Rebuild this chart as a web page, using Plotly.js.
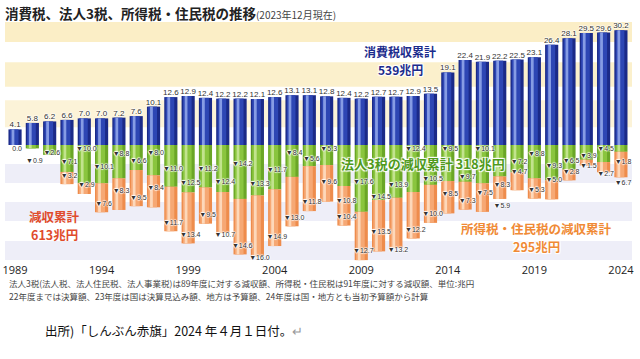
<!DOCTYPE html>
<html>
<head>
<meta charset="utf-8">
<script src="https://cdn.plot.ly/plotly-3.0.1.min.js"></script>
<style>
html,body{margin:0;padding:0;background:#fff;}
#chart{width:640px;height:359px;}
</style>
</head>
<body>
<div id="chart"></div>
<script>
// ---- data (trillion yen) ----
const years = [1989,1990,1991,1992,1993,1994,1995,1996,1997,1998,1999,2000,2001,2002,2003,2004,2005,2006,2007,2008,2009,2010,2011,2012,2013,2014,2015,2016,2017,2018,2019,2020,2021,2022,2023,2024];
const consumptionTax = [4.1,5.8,6.2,6.6,7.0,7.0,7.2,7.6,10.1,12.6,12.9,12.4,12.2,12.2,12.1,12.6,13.1,13.1,12.8,12.4,12.2,12.7,12.7,12.9,13.5,19.1,22.4,21.9,22.2,22.5,23.1,26.4,28.1,29.5,29.6,30.2];
const corporateTaxCut = [0.0,0.9,2.6,7.1,10.0,10.1,8.8,6.6,8.0,11.0,12.5,11.2,12.4,14.2,13.3,11.7,8.4,5.6,5.3,10.8,17.6,14.5,13.9,12.4,10.5,9.5,9.7,10.1,8.3,7.2,8.8,9.3,6.5,3.9,4.5,1.8];
const incomeTaxCut = [null,null,null,3.2,2.9,7.6,8.3,9.5,8.4,11.7,13.4,9.5,10.7,14.6,16.0,14.9,13.0,11.8,9.6,10.4,12.7,13.5,13.2,12.2,10.0,8.5,7.3,7.5,5.9,4.7,5.3,5.0,2.8,1.5,2.7,6.7];
const tickYears = [1989,1994,1999,2004,2009,2014,2019,2024];

// ---- derived ----
const gNeg = corporateTaxCut.map(v => -v);
const oNeg = incomeTaxCut.map(v => v == null ? null : -v);
const oBase = corporateTaxCut.map(v => -v);

// label placement: greedy, avoid the neighbouring bar's labels and the green caption
const SEP = 2.8;
const captionYears = [2007.6, 2017.4], captionBand = [-8.1, -1.3];
const wide = v => v != null && v >= 10;
const gLab = [], oLab = [];
function bad(y, i, isWide, prev) {
  if (prev.some(p => p && (p.wide || isWide) && Math.abs(p.y - y) < SEP)) return true;
  if (prev.some(p => p && !p.wide && !isWide && Math.abs(p.y - y) < SEP * 0.45)) return true;
  const yr = years[i];
  return yr >= captionYears[0] && yr <= captionYears[1] && y > captionBand[0] && y < captionBand[1];
}
const steps = [0, SEP, -SEP, 2*SEP, -2*SEP, 3*SEP, -3*SEP, 4*SEP, -4*SEP];
corporateTaxCut.forEach((g, i) => {
  const prev = i > 0 ? [gLab[i-1], oLab[i-1]] : [];
  const pg = -(g * 0.5) - 0.9;
  let yg = pg;
  for (const s of steps) { const c = Math.min(-1.1, pg + s); if (!bad(c, i, wide(g), prev)) { yg = c; break; } }
  gLab.push({y: yg, wide: wide(g)});
  const o = incomeTaxCut[i];
  if (o == null) { oLab.push(null); return; }
  const po = Math.min(-(g + o) + 2.2, yg - SEP);
  let yo = po;
  for (const s of steps) { const c = Math.min(po + s, yg - SEP); if (!bad(c, i, wide(o), prev)) { yo = c; break; } }
  oLab.push({y: yo, wide: wide(o)});
});

const numFont = "'Liberation Sans Narrow','Liberation Sans','DejaVu Sans',sans-serif";
const halo = '1px 0 1px #fff, -1px 0 1px #fff, 0 1px 1px #fff, 0 -1px 1px #fff';

function barLayer(y, base, color, width, offset) {
  const t = {type:'bar', x:years, y:y, width:width, marker:{color:color, line:{width:0}}, hoverinfo:'skip'};
  if (base) t.base = base;
  if (offset !== undefined) t.offset = offset;
  return t;
}

const traces = [
  barLayer(consumptionTax, null, '#1b2a88', 0.76),
  barLayer(consumptionTax, null, '#2d46b4', 0.5, -0.3),
  barLayer(consumptionTax, null, 'rgba(150,172,236,0.85)', 0.16, -0.2),
  barLayer(gNeg, null, '#6aa626', 0.76),
  barLayer(gNeg, null, '#8ac53e', 0.5, -0.3),
  barLayer(gNeg, null, 'rgba(200,230,150,0.9)', 0.16, -0.2),
  barLayer(oNeg, oBase, '#ee8c4c', 0.76),
  barLayer(oNeg, oBase, '#f6a874', 0.5, -0.3),
  barLayer(oNeg, oBase, 'rgba(253,218,190,0.95)', 0.16, -0.2),
  {type:'scatter', mode:'text', x:years, y:consumptionTax,
   text:consumptionTax.map(v => v.toFixed(1)), textposition:'top center',
   textfont:{size:8, color:'#333', family:numFont, shadow:halo}, hoverinfo:'skip'},
  {type:'scatter', mode:'text', x:years.map(v => v + 0.12), y:gLab.map(l => l.y),
   text:corporateTaxCut.map(v => v === 0 ? '0.0' : '▼' + v.toFixed(1)), textposition:'middle center',
   textfont:{size:7, color:'#333', family:numFont, shadow:halo}, hoverinfo:'skip'},
  {type:'scatter', mode:'text', x:years.map(v => v + 0.12), y:oLab.map(l => l ? l.y : null),
   text:incomeTaxCut.map(v => v == null ? '' : '▼' + v.toFixed(1)), textposition:'middle center',
   textfont:{size:7, color:'#333', family:numFont, shadow:halo}, hoverinfo:'skip'}
];

const yTop = 32.37, yBot = -30.8;
function band(y0, y1, color) {
  return {type:'rect', xref:'paper', yref:'y', x0:0, x1:1, y0:y0, y1:y1, fillcolor:color, line:{width:0}, layer:'below'};
}
const shapes = [
  band(4.7, 11.8, '#fcf3d8'),
  band(15.3, 21.8, '#fbf0cc'),
  band(27.1, yTop, '#fbeec6'),
  band(-10, -5, '#eeeef8'),
  band(-20, -15, '#eeeef8'),
  band(-30.3, -25.3, '#eeeef8')
];

const cjk = "'Noto Sans CJK JP','Noto Sans',sans-serif";
const strong = '1px 1px 1px #fff, -1px -1px 1px #fff, 1px -1px 1px #fff, -1px 1px 1px #fff';
const px = v => (v - 5) / 627, py = v => (262 - v) / 240;
function note(xp, yp, text, font, xa) {
  return {xref:'paper', yref:'paper', x:px(xp), y:py(yp), xanchor:xa || 'center', yanchor:'middle', text:text, showarrow:false, font:font};
}
const blueF = {family:cjk, size:12, color:'#1b2b8c', shadow:strong};
const redF = {family:cjk, size:12.5, color:'#e04b2b'};
const orangeF = {family:cjk, size:12.5, color:'#f08a35', shadow:strong};
const annotations = [
  note(400, 51, '<b>消費税収累計</b>', blueF),
  note(400, 69, '<b>539兆円</b>', blueF),
  note(423, 163, '<b>法人3税の減収累計 318兆円</b>', {family:cjk, size:13, color:'#4f9a1c', shadow:strong}),
  note(54, 216.5, '<b>減収累計</b>', redF),
  note(54, 234.5, '<b>613兆円</b>', redF),
  note(536, 228, '<b>所得税・住民税の減収累計</b>', orangeF),
  note(536, 246, '<b>295兆円</b>', orangeF),
  note(7, 283, '法人3税(法人税、法人住民税、法人事業税)は89年度に対する減収額、所得税・住民税は91年度に対する減収額、単位:兆円', {family:cjk, size:8.5, color:'#444'}, 'left'),
  note(7, 296, '22年度までは決算額、23年度は国は決算見込み額、地方は予算額、24年度は国・地方とも当初予算額から計算', {family:cjk, size:8.5, color:'#444'}, 'left'),
  note(43, 330, '出所)「しんぶん赤旗」2024 年４月１日付。<span style="color:#999">↵</span>', {family:cjk, size:12.5, color:'#111'}, 'left')
];

const layout = {
  width:640, height:359,
  margin:{l:5, r:8, t:22, b:97},
  paper_bgcolor:'#fff', plot_bgcolor:'#fff',
  barmode:'overlay', showlegend:false,
  title:{text:'<b>消費税、法人3税、所得税・住民税の推移</b><span style="font-size:10px;color:#444">(2023年12月現在)</span>',
         x:5/640, xanchor:'left', xref:'container', y:1-14/359, yanchor:'middle', yref:'container',
         font:{family:cjk, size:13.5, color:'#222'}},
  xaxis:{range:[1988.42, 2024.64], tickvals:tickYears, ticktext:tickYears.map(String),
         showgrid:false, zeroline:false, showline:false, ticks:'',
         tickfont:{family:"'Open Sans','Noto Sans',sans-serif", size:11, color:'#222'}},
  yaxis:{range:[yBot, yTop], visible:false, showgrid:false, zeroline:false},
  shapes:shapes,
  annotations:annotations
};

Plotly.newPlot('chart', traces, layout, {staticPlot:true, displayModeBar:false});
</script>
</body>
</html>
